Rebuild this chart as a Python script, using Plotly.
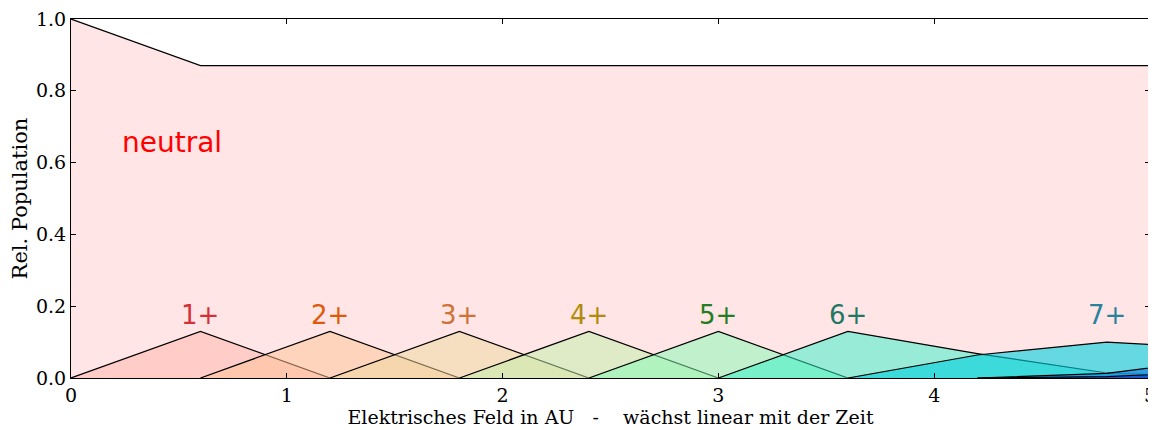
import plotly.graph_objects as go

# field grid (AU) and relative populations
neutral_x = [0.0, 0.6, 1.2, 1.8, 2.4, 3.0, 3.6, 4.2, 4.8, 5.4]
neutral_y = [1.0, 0.87, 0.87, 0.87, 0.87, 0.87, 0.87, 0.87, 0.87, 0.87]

ion_names = ["1+", "2+", "3+", "4+", "5+", "6+", "7+", "8+", "9+"]
ion_x = [
    [0.0, 0.6, 1.2],
    [0.6, 1.2, 1.8],
    [1.2, 1.8, 2.4],
    [1.8, 2.4, 3.0],
    [2.4, 3.0, 3.6],
    [3.0, 3.6, 4.2, 4.8, 5.4],
    [3.6, 4.2, 4.8, 5.4],
    [4.2, 4.8, 5.4],
    [4.2, 4.8, 5.4],
]
ion_y = [
    [0.0, 0.13, 0.0],
    [0.0, 0.13, 0.0],
    [0.0, 0.13, 0.0],
    [0.0, 0.13, 0.0],
    [0.0, 0.13, 0.0],
    [0.0, 0.13, 0.068, 0.014, 0.002],
    [0.0, 0.064, 0.10, 0.08],
    [0.0, 0.013, 0.058],
    [0.0, 0.004, 0.02],
]
label_x = [0.6, 1.2, 1.8, 2.4, 3.0, 3.6, 4.8]
label_y = 0.175

fill_colors = [
    "rgba(255,179,171,0.5)",
    "rgba(255,195,147,0.5)",
    "rgba(237,215,155,0.5)",
    "rgba(191,239,167,0.5)",
    "rgba(131,251,181,0.5)",
    "rgba(47,241,201,0.5)",
    "rgba(0,206,222,0.6)",
    "rgba(30,140,225,0.75)",
    "rgba(20,70,200,0.8)",
]
label_colors = ["#d23237", "#dc5a0a", "#cd7337", "#af8c0a", "#237d23", "#1e7864", "#28829b"]

fig = go.Figure()
fig.add_trace(go.Scatter(
    x=neutral_x, y=neutral_y, mode="lines", fill="tozeroy",
    fillcolor="rgba(255,0,0,0.1)", line=dict(color="black", width=1.2),
    showlegend=False, hoverinfo="skip",
))
for xs, ys, fc in zip(ion_x, ion_y, fill_colors):
    fig.add_trace(go.Scatter(
        x=xs, y=ys, mode="lines", fill="tozeroy", fillcolor=fc,
        line=dict(color="black", width=1.2), showlegend=False, hoverinfo="skip",
    ))

fig.add_annotation(x=0.47, y=0.655, text="neutral", showarrow=False,
                   font=dict(family="DejaVu Sans", size=28, color="red"))
for name, lx, lc in zip(ion_names, label_x, label_colors):
    fig.add_annotation(x=lx, y=label_y, text=name, showarrow=False,
                       font=dict(family="DejaVu Sans", size=26, color=lc))

axis_style = dict(
    showline=True, linecolor="black", linewidth=1, mirror="ticks",
    ticks="inside", ticklen=5, tickcolor="black", showgrid=False, zeroline=False,
    automargin=False, ticklabeloverflow="allow",
    tickfont=dict(family="DejaVu Serif", size=19, color="black"),
)
fig.update_xaxes(range=[0, 5], dtick=1, tick0=0,
                 title=dict(text="Elektrisches Feld in AU   -    wächst linear mit der Zeit",
                            font=dict(family="DejaVu Serif", size=19, color="black"), standoff=0),
                 **axis_style)
fig.update_yaxes(range=[0, 1], dtick=0.2, tick0=0, tickformat=".1f",
                 title=dict(text="Rel. Population",
                            font=dict(family="DejaVu Serif", size=21, color="black"), standoff=4),
                 **axis_style)
# the page body adds an 8px margin, so margins are shifted to keep the plot area in place
fig.update_layout(
    width=1156, height=422,
    margin=dict(l=63, r=14, t=11, b=52),
    plot_bgcolor="white", paper_bgcolor="white",
)
fig.write_html("out.html")
